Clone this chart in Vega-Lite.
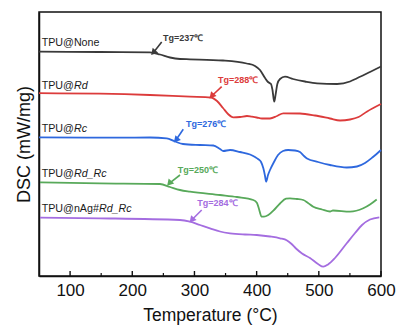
{
  "$schema": "https://vega.github.io/schema/vega-lite/v6.json",
  "autosize": "none",
  "width": 342,
  "height": 264,
  "padding": {"left": 39, "top": 12, "right": 16, "bottom": 53},
  "background": "white",
  "config": {
    "font": "Liberation Sans",
    "view": {"stroke": "#111", "strokeWidth": 1.5},
    "axis": {"domainColor": "#111", "domainWidth": 1.5, "grid": false, "labelColor": "#111", "titleColor": "#111", "titleFontWeight": "normal"}
  },
  "datasets": {
    "curves": [
      {"s": "None", "t": 50, "v": 224.3}, {"s": "None", "t": 148, "v": 224}, {"s": "None", "t": 228.5, "v": 223.7}, {"s": "None", "t": 244.6, "v": 221.5}, {"s": "None", "t": 260.7, "v": 218.5}, {"s": "None", "t": 276.8, "v": 217}, {"s": "None", "t": 292.8, "v": 216.7}, {"s": "None", "t": 345.9, "v": 215.5}, {"s": "None", "t": 384, "v": 212.5}, {"s": "None", "t": 397.4, "v": 210}, {"s": "None", "t": 405.4, "v": 206}, {"s": "None", "t": 413.5, "v": 198}, {"s": "None", "t": 418.3, "v": 194}, {"s": "None", "t": 423.1, "v": 192}, {"s": "None", "t": 425.5, "v": 186}, {"s": "None", "t": 428.3, "v": 174.3}, {"s": "None", "t": 430.4, "v": 181}, {"s": "None", "t": 433.3, "v": 192}, {"s": "None", "t": 437.6, "v": 197}, {"s": "None", "t": 445.6, "v": 199.3}, {"s": "None", "t": 458.5, "v": 197}, {"s": "None", "t": 477.8, "v": 194.5}, {"s": "None", "t": 497.1, "v": 192.7}, {"s": "None", "t": 529.3, "v": 192}, {"s": "None", "t": 550.2, "v": 194.5}, {"s": "None", "t": 561.4, "v": 197.7}, {"s": "None", "t": 582.3, "v": 204}, {"s": "None", "t": 600, "v": 209.5},
      {"s": "Rd", "t": 50, "v": 182.8}, {"s": "Rd", "t": 148, "v": 182.3}, {"s": "Rd", "t": 228.5, "v": 181}, {"s": "Rd", "t": 292.8, "v": 179.3}, {"s": "Rd", "t": 326.6, "v": 178.5}, {"s": "Rd", "t": 336.3, "v": 175}, {"s": "Rd", "t": 345.9, "v": 168}, {"s": "Rd", "t": 354, "v": 162}, {"s": "Rd", "t": 362.5, "v": 158.7}, {"s": "Rd", "t": 373.3, "v": 159}, {"s": "Rd", "t": 384.5, "v": 160}, {"s": "Rd", "t": 392.1, "v": 159.3}, {"s": "Rd", "t": 400.1, "v": 158.5}, {"s": "Rd", "t": 408.6, "v": 157.5}, {"s": "Rd", "t": 421.5, "v": 157.5}, {"s": "Rd", "t": 432.8, "v": 160}, {"s": "Rd", "t": 442.9, "v": 162.7}, {"s": "Rd", "t": 469.7, "v": 162.5}, {"s": "Rd", "t": 493.9, "v": 160.5}, {"s": "Rd", "t": 518, "v": 157.5}, {"s": "Rd", "t": 534.1, "v": 155.5}, {"s": "Rd", "t": 550.2, "v": 156.5}, {"s": "Rd", "t": 563.9, "v": 159}, {"s": "Rd", "t": 577.1, "v": 164.3}, {"s": "Rd", "t": 600, "v": 172},
      {"s": "Rc", "t": 50, "v": 138.7}, {"s": "Rc", "t": 148, "v": 138.3}, {"s": "Rc", "t": 228.5, "v": 138.5}, {"s": "Rc", "t": 255.4, "v": 137.7}, {"s": "Rc", "t": 268.7, "v": 134.5}, {"s": "Rc", "t": 281.6, "v": 132}, {"s": "Rc", "t": 308.9, "v": 131}, {"s": "Rc", "t": 330.3, "v": 130.5}, {"s": "Rc", "t": 341.1, "v": 127}, {"s": "Rc", "t": 346.4, "v": 125}, {"s": "Rc", "t": 357.2, "v": 126}, {"s": "Rc", "t": 373.3, "v": 124}, {"s": "Rc", "t": 389.4, "v": 121.5}, {"s": "Rc", "t": 397.4, "v": 119}, {"s": "Rc", "t": 402.8, "v": 116.7}, {"s": "Rc", "t": 407.1, "v": 114}, {"s": "Rc", "t": 410.8, "v": 107.7}, {"s": "Rc", "t": 413.5, "v": 100}, {"s": "Rc", "t": 415.2, "v": 94.3}, {"s": "Rc", "t": 418.3, "v": 101}, {"s": "Rc", "t": 421.5, "v": 106}, {"s": "Rc", "t": 427.9, "v": 114}, {"s": "Rc", "t": 434.4, "v": 121}, {"s": "Rc", "t": 442.4, "v": 125}, {"s": "Rc", "t": 450.5, "v": 126}, {"s": "Rc", "t": 461.8, "v": 125.5}, {"s": "Rc", "t": 469.7, "v": 124}, {"s": "Rc", "t": 476.2, "v": 120}, {"s": "Rc", "t": 481, "v": 117.5}, {"s": "Rc", "t": 498.7, "v": 114}, {"s": "Rc", "t": 518, "v": 111}, {"s": "Rc", "t": 544.9, "v": 108.5}, {"s": "Rc", "t": 561.4, "v": 109.5}, {"s": "Rc", "t": 574.3, "v": 113}, {"s": "Rc", "t": 587.1, "v": 119}, {"s": "Rc", "t": 600, "v": 126},
      {"s": "Rd_Rc", "t": 51.6, "v": 93.7}, {"s": "Rd_Rc", "t": 148, "v": 92.7}, {"s": "Rd_Rc", "t": 244.6, "v": 92}, {"s": "Rd_Rc", "t": 260.7, "v": 89}, {"s": "Rd_Rc", "t": 276.8, "v": 86}, {"s": "Rd_Rc", "t": 292.8, "v": 84.3}, {"s": "Rd_Rc", "t": 341.1, "v": 81}, {"s": "Rd_Rc", "t": 368.4, "v": 79}, {"s": "Rd_Rc", "t": 394.6, "v": 76}, {"s": "Rd_Rc", "t": 400.6, "v": 73}, {"s": "Rd_Rc", "t": 403.8, "v": 67}, {"s": "Rd_Rc", "t": 407.8, "v": 59.5}, {"s": "Rd_Rc", "t": 411.9, "v": 59.3}, {"s": "Rd_Rc", "t": 418.8, "v": 61}, {"s": "Rd_Rc", "t": 427.9, "v": 66}, {"s": "Rd_Rc", "t": 437.6, "v": 72.5}, {"s": "Rd_Rc", "t": 447.3, "v": 77.3}, {"s": "Rd_Rc", "t": 453.6, "v": 77.7}, {"s": "Rd_Rc", "t": 464.9, "v": 77}, {"s": "Rd_Rc", "t": 475, "v": 76}, {"s": "Rd_Rc", "t": 482.6, "v": 73}, {"s": "Rd_Rc", "t": 491.1, "v": 69.3}, {"s": "Rd_Rc", "t": 505.1, "v": 66.5}, {"s": "Rd_Rc", "t": 518, "v": 64.5}, {"s": "Rd_Rc", "t": 522.8, "v": 65.5}, {"s": "Rd_Rc", "t": 550.2, "v": 64.3}, {"s": "Rd_Rc", "t": 571.5, "v": 67.7}, {"s": "Rd_Rc", "t": 582.3, "v": 71.5}, {"s": "Rd_Rc", "t": 593.1, "v": 76.5},
      {"s": "nAg", "t": 51.6, "v": 58.3}, {"s": "nAg", "t": 148, "v": 57.7}, {"s": "nAg", "t": 276.8, "v": 56}, {"s": "nAg", "t": 292.8, "v": 54.3}, {"s": "nAg", "t": 308.9, "v": 51}, {"s": "nAg", "t": 325, "v": 47.7}, {"s": "nAg", "t": 341.1, "v": 44.5}, {"s": "nAg", "t": 357.2, "v": 42.7}, {"s": "nAg", "t": 381.3, "v": 41.5}, {"s": "nAg", "t": 400.1, "v": 41}, {"s": "nAg", "t": 421.5, "v": 39.5}, {"s": "nAg", "t": 437.6, "v": 37.7}, {"s": "nAg", "t": 448.9, "v": 35.5}, {"s": "nAg", "t": 455.3, "v": 32.5}, {"s": "nAg", "t": 463.3, "v": 27.5}, {"s": "nAg", "t": 473, "v": 22.5}, {"s": "nAg", "t": 485.8, "v": 18}, {"s": "nAg", "t": 498.7, "v": 12}, {"s": "nAg", "t": 507.2, "v": 9.3}, {"s": "nAg", "t": 514.8, "v": 11.5}, {"s": "nAg", "t": 526, "v": 18}, {"s": "nAg", "t": 544.9, "v": 32.7}, {"s": "nAg", "t": 558.3, "v": 43}, {"s": "nAg", "t": 569.5, "v": 51}, {"s": "nAg", "t": 582.3, "v": 56.5}, {"s": "nAg", "t": 597.3, "v": 58.7}
    ],
    "names": [
      {"text": "TPU@None", "t": 54.3, "v": 230},
      {"text": "TPU@", "t": 54.3, "v": 186.7},
      {"text": "TPU@", "t": 54.3, "v": 144.3},
      {"text": "TPU@", "t": 54.3, "v": 98.7},
      {"text": "TPU@nAg#", "t": 54.3, "v": 63.7}
    ],
    "italics": [
      {"text": "Rd", "t": 106.2, "v": 186.7},
      {"text": "Rc", "t": 106.2, "v": 144.3},
      {"text": "Rd_Rc", "t": 106.2, "v": 98.7},
      {"text": "Rd_Rc", "t": 146.4, "v": 63.7}
    ],
    "tg": [
      {"s": "None", "text": "Tg=237℃", "t": 249.4, "v": 235, "t0": 247.3, "v0": 234, "t1": 233.8, "v1": 223.3},
      {"s": "Rd", "text": "Tg=288℃", "t": 337.9, "v": 193.3, "t0": 343.8, "v0": 189.3, "t1": 327.7, "v1": 180},
      {"s": "Rc", "text": "Tg=276℃", "t": 286.4, "v": 148.7, "t0": 282, "v0": 146.7, "t1": 270.3, "v1": 136},
      {"s": "Rd_Rc", "text": "Tg=250℃", "t": 273, "v": 103.3, "t0": 276.8, "v0": 101, "t1": 259.5, "v1": 92.7},
      {"s": "nAg", "text": "Tg=284℃", "t": 304.6, "v": 70.3, "t0": 311.6, "v0": 66, "t1": 295.6, "v1": 56}
    ],
    "major": [{"t": 100}, {"t": 200}, {"t": 300}, {"t": 400}, {"t": 500}, {"t": 600}],
    "minor": [{"t": 150}, {"t": 250}, {"t": 350}, {"t": 450}, {"t": 550}]
  },
  "layer": [
    {
      "data": {"name": "curves"},
      "mark": {"type": "line", "strokeWidth": 1.8, "interpolate": "monotone"},
      "encoding": {
        "x": {"field": "t", "type": "quantitative", "scale": {"domain": [50, 600], "nice": false},
          "axis": {"title": "Temperature (°C)", "values": [100, 200, 300, 400, 500, 600],
            "ticks": false,
            "labelFontSize": 17, "labelPadding": 6, "titleFontSize": 17.5, "titlePadding": 8, "labelFlush": false}},
        "y": {"field": "v", "type": "quantitative", "scale": {"domain": [0, 264], "nice": false},
          "axis": {"title": "DSC (mW/mg)", "labels": false, "ticks": false, "titleFontSize": 18, "titlePadding": 6}},
        "color": {"field": "s", "type": "nominal", "legend": null,
          "scale": {"domain": ["None", "Rd", "Rc", "Rd_Rc", "nAg"], "range": ["#3a3a3a", "#dc3b3b", "#2e68de", "#58a95a", "#a46de0"]}},
        "detail": {"field": "s"}
      }
    },
    {
      "data": {"name": "major"},
      "mark": {"type": "rule", "color": "#111", "strokeWidth": 1.4},
      "encoding": {
        "x": {"field": "t", "type": "quantitative"},
        "y": {"datum": 0},
        "y2": {"datum": 5}
      }
    },
    {
      "data": {"name": "minor"},
      "mark": {"type": "rule", "color": "#111", "strokeWidth": 1.2},
      "encoding": {
        "x": {"field": "t", "type": "quantitative"},
        "y": {"datum": 0},
        "y2": {"datum": 3}
      }
    },
    {
      "data": {"name": "names"},
      "mark": {"type": "text", "align": "left", "baseline": "alphabetic", "fontSize": 10.7, "color": "#1a1a1a"},
      "encoding": {
        "x": {"field": "t", "type": "quantitative"},
        "y": {"field": "v", "type": "quantitative"},
        "text": {"field": "text"}
      }
    },
    {
      "data": {"name": "italics"},
      "mark": {"type": "text", "align": "left", "baseline": "alphabetic", "fontSize": 10.7, "fontStyle": "italic", "color": "#1a1a1a"},
      "encoding": {
        "x": {"field": "t", "type": "quantitative"},
        "y": {"field": "v", "type": "quantitative"},
        "text": {"field": "text"}
      }
    },
    {
      "data": {"name": "tg"},
      "mark": {"type": "text", "align": "left", "baseline": "alphabetic", "fontSize": 9, "fontWeight": "bold", "font": "Liberation Sans", "letterSpacing": -0.4},
      "encoding": {
        "x": {"field": "t", "type": "quantitative"},
        "y": {"field": "v", "type": "quantitative"},
        "text": {"field": "text"},
        "color": {"field": "s", "type": "nominal", "legend": null}
      }
    },
    {
      "data": {"name": "tg"},
      "mark": {"type": "rule", "strokeWidth": 1.6},
      "encoding": {
        "x": {"field": "t0", "type": "quantitative"},
        "y": {"field": "v0", "type": "quantitative"},
        "x2": {"field": "t1"},
        "y2": {"field": "v1"},
        "color": {"field": "s", "type": "nominal", "legend": null}
      }
    },
    {
      "data": {"name": "tg"},
      "mark": {"type": "point", "shape": "triangle-up", "filled": true, "opacity": 1, "size": 55, "angle": 222, "strokeWidth": 0},
      "encoding": {
        "x": {"field": "t1", "type": "quantitative"},
        "y": {"field": "v1", "type": "quantitative"},
        "color": {"field": "s", "type": "nominal", "legend": null}
      }
    }
  ]
}
